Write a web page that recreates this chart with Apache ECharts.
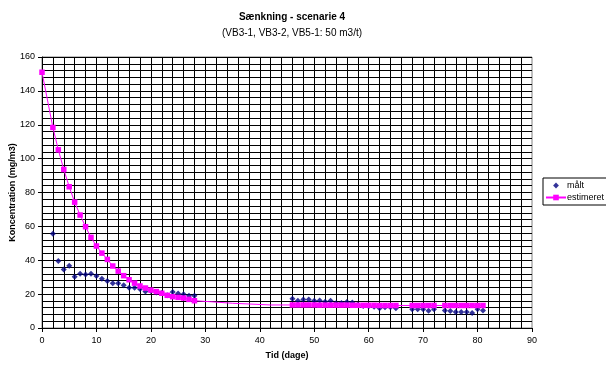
<!DOCTYPE html>
<html><head><meta charset="utf-8">
<script src="https://cdn.jsdelivr.net/npm/echarts@6/dist/echarts.min.js"></script>
<style>html,body{margin:0;padding:0;background:#fff}#c{width:606px;height:369px}</style>
</head><body><div id="c"></div>
<script>
const titleText = "Sænkning - scenarie 4";
const subtitleText = "(VB3-1, VB3-2, VB5-1: 50 m3/t)";
const xName = "Tid (dage)";
const yName = "Koncentration (mg/m3)";
const seriesNames = ["målt", "estimeret"];

// measured (målt)
const maltDays = [2,3,4,5,6,7,8,9,10,11,12,13,14,15,16,17,18,19,20,21,22,23,24,25,26,27,28,
  46,47,48,49,50,51,52,53,54,55,56,57,58,59,60,61,62,63,64,65,
  68,69,70,71,72,74,75,76,77,78,79,80,81];
const maltVals = [55.6,39.5,34.6,36.8,30.3,32,31.6,32,30.7,29.1,27.7,26.4,26.4,25.2,23.8,23.8,23,21.6,21.8,21,20.7,19.3,21.2,20.4,19.9,19,19,
  17.3,16.1,16.9,16.9,16.1,16.3,15.5,16.1,14.6,14.7,15.3,15.1,13.8,13,12.8,12.6,11.6,12.2,12.2,11.6,
  11,11,11,10.2,11,10.4,10,9.4,9.4,9.4,8.8,11,10.4];

// estimated (estimeret)
const estDays = [0,2,3,4,5,6,7,8,9,10,11,12,13,14,15,16,17,18,19,20,21,22,23,24,25,26,27,28,
  31,35,42,
  46,47,48,49,50,51,52,53,54,55,56,57,58,59,60,61,62,63,64,65,
  68,69,70,71,72,74,75,76,77,78,79,80,81];
const estVals = [151,118.4,105.2,93.6,83.4,74.3,66.7,59.8,53.5,48.4,44.2,40.5,36.6,33.6,30.9,28.5,26.5,24.8,23.6,22.4,21.5,20.5,19.3,18.5,18.1,17.7,16.9,16.1,
  15.5,14.6,13.6,
  13.6,13.6,13.6,13.6,13.6,13.5,13.5,13.5,13.5,13.5,13.5,13.4,13.4,13.4,13.4,13.4,13.3,13.3,13.3,13.3,
  13.3,13.3,13.3,13.3,13.3,13.3,13.3,13.3,13.3,13.3,13.3,13.3,13.3];
const estNoMarker = [31,35,42];

const font = 'Liberation Sans, Arial, sans-serif';
const chart = echarts.init(document.getElementById('c'));
chart.setOption({
  animation: false,
  title: [
    {text: titleText, left: 287, top: 7, textAlign: 'center',
     textStyle: {fontFamily: font, fontSize: 10, fontWeight: 'bold', color: '#000'}},
    {text: subtitleText, left: 287, top: 23, textAlign: 'center',
     textStyle: {fontFamily: font, fontSize: 10, fontWeight: 'normal', color: '#000'}}
  ],
  grid: {left: 42, top: 57, width: 490, height: 271, show: true, borderColor: '#808080', borderWidth: 1,
         containLabel: false, outerBoundsMode: 'none'},
  legend: {
    orient: 'vertical', left: 543, top: 178, itemGap: 3, itemWidth: 20, itemHeight: 7,
    padding: [3, 4, 3, 2], borderColor: '#000', borderWidth: 1, backgroundColor: '#fff',
    textStyle: {fontFamily: font, fontSize: 9, color: '#000', padding: [0,0,0,-4]},
    data: [
      {name: seriesNames[0], icon: 'path://M0,0M20,7M10,0.6L12.9,3.5L10,6.4L7.1,3.5Z'},
      {name: seriesNames[1]}
    ]
  },
  xAxis: {
    type: 'value', min: 0, max: 90, interval: 10,
    name: xName, nameLocation: 'middle', nameGap: 23, nameMoveOverlap: false,
    nameTextStyle: {fontFamily: font, fontSize: 9, fontWeight: 'bold', color: '#000'},
    axisLine: {show: true, lineStyle: {color: '#000', width: 1}},
    axisTick: {show: true, length: 4, lineStyle: {color: '#000'}},
    axisLabel: {fontFamily: font, fontSize: 9, color: '#000', margin: 8},
    splitLine: {show: true, showMaxLine: false, lineStyle: {color: '#000', width: 1}},
    minorTick: {show: false, splitNumber: 5},
    minorSplitLine: {show: true, lineStyle: {color: '#000', width: 1}}
  },
  yAxis: {
    type: 'value', min: 0, max: 160, interval: 20,
    name: yName, nameLocation: 'middle', nameGap: 29, nameRotate: 90, nameMoveOverlap: false,
    nameTextStyle: {fontFamily: font, fontSize: 9, fontWeight: 'bold', color: '#000', verticalAlign: 'middle'},
    axisLine: {show: true, lineStyle: {color: '#000', width: 1}},
    axisTick: {show: true, length: 4, lineStyle: {color: '#000'}},
    axisLabel: {fontFamily: font, fontSize: 9, color: '#000', margin: 7},
    splitLine: {show: true, lineStyle: {color: '#000', width: 1}},
    minorTick: {show: false, splitNumber: 5},
    minorSplitLine: {show: true, lineStyle: {color: '#000', width: 1}}
  },
  series: [
    {
      name: seriesNames[0], type: 'scatter', symbol: 'diamond', symbolSize: 6,
      itemStyle: {color: '#000080'}, z: 3,
      data: maltDays.map((d, i) => [d, maltVals[i]])
    },
    {
      name: seriesNames[1], type: 'line', symbol: 'rect', symbolSize: 5.5, showSymbol: true,
      lineStyle: {color: '#FF00FF', width: 1}, itemStyle: {color: '#FF00FF'}, z: 4,
      data: estDays.map((d, i) => estNoMarker.includes(d)
        ? {value: [d, estVals[i]], symbol: 'none'}
        : [d, estVals[i]])
    }
  ]
});
</script></body></html>
